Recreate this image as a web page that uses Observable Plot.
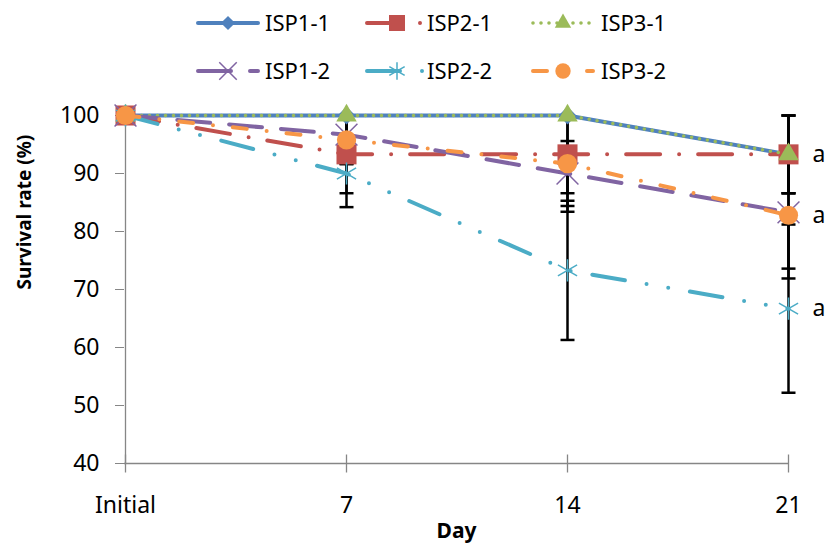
<!DOCTYPE html>
<html><head><meta charset="utf-8">
<script src="https://cdn.jsdelivr.net/npm/d3@7"></script>
<script src="https://cdn.jsdelivr.net/npm/@observablehq/plot@0.6"></script>
<style>
body{margin:0;background:#fff;font-family:"Noto Sans",sans-serif;}
#legend svg,#chart svg{display:block;overflow:visible;}
</style>
</head><body>
<div id="legend"></div>
<div id="chart"></div>
<script>
// ---- data ----
const days = ["Initial", "7", "14", "21"];
const seriesNames = ["ISP1-1", "ISP2-1", "ISP3-1", "ISP1-2", "ISP2-2", "ISP3-2"];
const isp1_1 = [100, 100, 100, 93.3];
const isp2_1 = [100, 93.3, 93.3, 93.3];
const isp3_1 = [100, 100, 100, 93.3];
const isp1_2 = [100, 96.7, 90.0, 83.3];
const isp2_2 = [100, 90.0, 73.3, 66.7];
const isp3_2 = [100, 95.8, 91.7, 82.8];
// standard deviations (error bars)
const sd1_1 = [0, 0, 0, 6.7];
const sd2_1 = [0, 6.7, 6.7, 6.7];
const sd3_1 = [0, 0, 0, 6.7];
const sd1_2 = [0, 5.0, 5.6, 9.7];
const sd2_2 = [0, 5.8, 12.0, 14.5];
const sd3_2 = [0, 4.2, 8.3, 10.9];
// significance letters at day 21
const letters = ["a", "a", "a"];
const letterY = [93.3, 82.8, 66.7];
const yTicks = [40, 50, 60, 70, 80, 90, 100];

const values = [isp1_1, isp2_1, isp3_1, isp1_2, isp2_2, isp3_2];
const sds = [sd1_1, sd2_1, sd3_1, sd1_2, sd2_2, sd3_2];

// ---- styles ----
const styles = [
  {color: "#4F81BD", dash: null, width: 4, symbol: "diamond2", r: 8, filled: true},
  {color: "#C0504D", dash: "34,19,0,19", width: 4, symbol: "square", r: 11.3, filled: true},
  {color: "#9BBB59", dash: "0,8", width: 3.6, symbol: "triangle", r: 7.6, filled: true},
  {color: "#8064A2", dash: "33,19", width: 4, symbol: "times", r: 10, filled: false},
  {color: "#4BACC6", dash: "33,22,0,22,0,22", width: 4, symbol: "asterisk", r: 10.5, filled: false},
  {color: "#F79646", dash: "14,20,0,20", width: 4, symbol: "circle", r: 9.6, filled: true}
];

const rowsBySeries = seriesNames.map((name, i) =>
  days.map((day, j) => ({series: name, day, value: values[i][j], sd: sds[i][j]})));
const allRows = rowsBySeries.flat();
const eb = allRows.filter(d => d.sd > 0).map(d => ({
  day: d.day, lo: d.value - d.sd, hi: Math.min(d.value + d.sd, 100), hiRaw: d.value + d.sd
}));
const ebTop = eb.filter(d => d.hiRaw <= 100.05);

const capSymbol = {draw(ctx) { ctx.moveTo(-7, 0); ctx.lineTo(7, 0); }};
const vTick = {draw(ctx) { ctx.moveTo(0, -9); ctx.lineTo(0, 9); }};

const axisGray = "#868686";
const marks = [
  Plot.ruleY([40], {stroke: axisGray, strokeWidth: 1.3}),
  Plot.ruleX(["Initial"], {stroke: axisGray, strokeWidth: 1.3}),
  Plot.dot(days, {x: d => d, y: () => 40, symbol: vTick, stroke: axisGray, strokeWidth: 1.3}),
  Plot.axisY({ticks: yTicks, tickSize: 9, tickPadding: 16, fontSize: 23, stroke: axisGray, label: null}),
  Plot.axisX({tickSize: 0, tickPadding: 33, fontSize: 23, label: null}),
  // error bars
  Plot.ruleX(eb, {x: "day", y1: "lo", y2: "hi", stroke: "black", strokeWidth: 2.5}),
  Plot.dot(eb, {x: "day", y: "lo", symbol: capSymbol, stroke: "black", strokeWidth: 2.5}),
  Plot.dot(ebTop, {x: "day", y: "hi", symbol: capSymbol, stroke: "black", strokeWidth: 2.5})
];
rowsBySeries.forEach((rows, i) => {
  const s = styles[i];
  marks.push(Plot.line(rows, {x: "day", y: "value", stroke: s.color, strokeWidth: s.width,
    strokeDasharray: s.dash, strokeLinecap: "round", strokeLinejoin: "round"}));
  marks.push(Plot.dot(rows, s.filled
    ? {x: "day", y: "value", symbol: s.symbol, r: s.r, fill: s.color, stroke: "none"}
    : {x: "day", y: "value", symbol: s.symbol, r: s.r, stroke: s.color, strokeWidth: 1.5}));
});
const letterRows = letters.map((t, i) => ({t, v: letterY[i]}));
marks.push(Plot.text(letterRows, {x: () => "21", y: "v", text: "t", dx: 24, textAnchor: "start", fontSize: 23, fill: "#000"}));
marks.push(Plot.text(["Survival rate (%)"], {frameAnchor: "left", dx: -100, rotate: -90, fontSize: 19, fontWeight: "bold", fill: "#000"}));
marks.push(Plot.text(["Day"], {frameAnchor: "bottom", dy: 74, fontSize: 21, fontWeight: "bold", fill: "#000"}));

const chart = Plot.plot({
  width: 825, height: 452,
  marginTop: 23, marginBottom: 81, marginLeft: 124, marginRight: 37,
  style: {fontFamily: "Noto Sans", color: "#000", background: "#fff", overflow: "visible"},
  x: {type: "point", domain: days, padding: 0},
  y: {domain: [40, 100]},
  marks
});
document.getElementById("chart").appendChild(chart);

// ---- legend (above the chart) ----
const legendPos = [
  {x: 198, y: 23, tx: 265}, {x: 367, y: 23, tx: 427}, {x: 533, y: 23, tx: 601},
  {x: 198, y: 71, tx: 265}, {x: 367, y: 71, tx: 427}, {x: 533, y: 71, tx: 601}
];
const symMap = {diamond2: d3.symbolDiamond2, square: d3.symbolSquare, triangle: d3.symbolTriangle,
  times: d3.symbolTimes, asterisk: d3.symbolAsterisk, circle: d3.symbolCircle};
const lsvg = d3.create("svg").attr("width", 825).attr("height", 92);
seriesNames.forEach((name, i) => {
  const s = styles[i], p = legendPos[i];
  const len = 60;
  lsvg.append("line").attr("x1", p.x).attr("x2", p.x + len).attr("y1", p.y).attr("y2", p.y)
    .attr("stroke", s.color).attr("stroke-width", s.width).attr("stroke-linecap", "round")
    .attr("stroke-dasharray", s.dash);
  const rr = s.r * 0.8;
  const path = d3.symbol(symMap[s.symbol], Math.PI * rr * rr)();
  const m = lsvg.append("path").attr("d", path).attr("transform", `translate(${p.x + len / 2},${p.y})`);
  if (s.filled) m.attr("fill", s.color); else m.attr("fill", "none").attr("stroke", s.color).attr("stroke-width", 1.5);
  lsvg.append("text").attr("x", p.tx).attr("y", p.y).attr("dy", "0.35em")
    .attr("font-family", "Noto Sans").attr("font-size", 22).attr("fill", "#000").text(name);
});
document.getElementById("legend").appendChild(lsvg.node());
</script>
</body></html>
